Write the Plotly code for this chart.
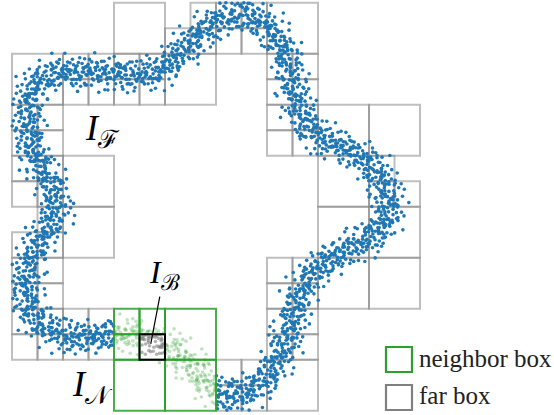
import numpy as np
import plotly.graph_objects as go

# ---------------- data ----------------
DOMAIN = 408.0  # side of the root box, data units; y grows downward

# centre line of the point cloud (data units)
curve_x = [46, 38, 28, 20, 16, 15, 18, 28, 43, 63, 88, 113, 138, 153, 166, 178, 191, 208, 228, 246,
           258, 269, 277, 282, 286, 294, 310, 330, 350, 365, 375, 378, 374, 364, 348, 328, 310, 296, 286, 280,
           274, 266, 251, 234, 217, 201, 186, 168, 148, 128, 106, 83, 58, 38, 23, 15, 13, 16, 23, 33, 43]
curve_y = [197, 179, 164, 147, 127, 107, 89, 77, 70, 69, 70, 72, 72, 65, 54, 41, 28, 17, 12, 15,
           25, 42, 63, 85, 105, 123, 135, 145, 155, 168, 186, 202, 218, 231, 241, 250, 261, 276, 295, 317,
           339, 359, 378, 392, 396, 387, 370, 352, 340, 333, 331, 334, 334, 329, 317, 301, 284, 265, 247, 231, 215]
band_sigma = 8.2
n_points = 2600

# far boxes (gray): level-3 boxes (8x8 grid) and level-4 boxes (16x16 grid), as (col, row)
far_level3 = [(0, 1), (2, 0), (3, 1), (5, 0), (1, 3), (1, 4), (6, 2), (7, 2), (6, 3), (6, 4),
              (7, 4), (7, 5), (6, 5), (5, 7)]
far_level4 = [(2, 2), (3, 2), (2, 3), (3, 3), (4, 2), (5, 2), (4, 3), (5, 3),
              (7, 0), (6, 1), (7, 1), (8, 0), (9, 0), (8, 1), (9, 1),
              (10, 2), (11, 2), (10, 3), (11, 3), (10, 4), (11, 4), (10, 5), (11, 5),
              (0, 4), (1, 4), (0, 5), (1, 5), (0, 6), (1, 6), (0, 7), (1, 7),
              (1, 8), (0, 9), (1, 9), (0, 10), (1, 10), (0, 11), (1, 11),
              (0, 12), (1, 12), (0, 13), (1, 13), (2, 12), (3, 12), (2, 13), (3, 13),
              (14, 6), (14, 7), (15, 7), (10, 10), (11, 10), (10, 11), (11, 11),
              (10, 12), (11, 12), (10, 13), (11, 13), (8, 14), (9, 14), (8, 15), (9, 15)]
# neighbour boxes (green)
near_level3 = [(3, 6), (2, 7), (3, 7)]
near_level4 = [(4, 12), (5, 12), (4, 13)]
# target box I_B
target_box = (4, 5, 13)

legend_labels = ["neighbor box", "far box"]

BLUE = "#1f77b4"
GREEN = "#2ca02c"


def box(level, col, row):
    s = DOMAIN / 2 ** level
    return col * s, row * s, (col + 1) * s, (row + 1) * s


# ---------------- point cloud along the centre line ----------------
def catmull_closed(px, py, m=24):
    px = np.asarray(px, float); py = np.asarray(py, float)
    n = len(px)
    xs, ys = [], []
    for i in range(n):
        p0 = np.array([px[(i - 1) % n], py[(i - 1) % n]])
        p1 = np.array([px[i], py[i]])
        p2 = np.array([px[(i + 1) % n], py[(i + 1) % n]])
        p3 = np.array([px[(i + 2) % n], py[(i + 2) % n]])
        for t in np.linspace(0, 1, m, endpoint=False):
            t2, t3 = t * t, t * t * t
            q = 0.5 * ((2 * p1) + (-p0 + p2) * t + (2 * p0 - 5 * p1 + 4 * p2 - p3) * t2
                       + (-p0 + 3 * p1 - 3 * p2 + p3) * t3)
            xs.append(q[0]); ys.append(q[1])
    xs.append(xs[0]); ys.append(ys[0])
    return np.array(xs), np.array(ys)


def halton(k, b):
    f, r = 1.0, 0.0
    while k > 0:
        f /= b
        r += f * (k % b)
        k //= b
    return r


sx, sy = catmull_closed(curve_x, curve_y)
seg = np.hypot(np.diff(sx), np.diff(sy))
arc = np.concatenate([[0], np.cumsum(seg)])
L = arc[-1]
tx = np.gradient(sx); ty = np.gradient(sy)
tn = np.hypot(tx, ty); tx /= tn; ty /= tn

k = np.arange(1, n_points + 1)
u_s = np.array([halton(i, 5) for i in k])
u_1 = np.array([halton(i, 2) for i in k])
u_2 = np.array([halton(i, 3) for i in k])
s = u_s * L
bx = np.interp(s, arc, sx); by = np.interp(s, arc, sy)
nx = -np.interp(s, arc, ty); ny = np.interp(s, arc, tx)
off = band_sigma * np.sqrt(-2 * np.log(np.clip(u_1, 1e-6, 1))) * np.cos(2 * np.pi * u_2)
off = np.clip(off, -2.4 * band_sigma, 2.4 * band_sigma)
ptx = bx + off * nx
pty = by + off * ny
ptx = np.where(ptx < 0, -ptx, ptx); pty = np.where(pty < 0, -pty, pty)
ptx = np.where(ptx > DOMAIN, 2 * DOMAIN - ptx, ptx); pty = np.where(pty > DOMAIN, 2 * DOMAIN - pty, pty)


def inside(bb, x, y):
    return (x >= bb[0]) & (x < bb[2]) & (y >= bb[1]) & (y < bb[3])


tb = box(*target_box)
in_t = inside(tb, ptx, pty)
in_n = np.zeros_like(in_t)
for c, r in near_level3:
    in_n |= inside(box(3, c, r), ptx, pty)
for c, r in near_level4:
    in_n |= inside(box(4, c, r), ptx, pty)
in_n &= ~in_t
far = ~(in_t | in_n)

fig = go.Figure()
fig.add_trace(go.Scatter(x=ptx[far], y=pty[far], mode="markers",
                         marker=dict(size=3.6, color=BLUE, line=dict(width=0)),
                         showlegend=False, hoverinfo="skip"))
fig.add_trace(go.Scatter(x=ptx[in_n], y=pty[in_n], mode="markers",
                         marker=dict(size=3.6, color="rgba(44,160,44,0.3)", line=dict(width=0)),
                         showlegend=False, hoverinfo="skip"))
fig.add_trace(go.Scatter(x=ptx[in_t], y=pty[in_t], mode="markers",
                         marker=dict(size=3.6, color="rgba(127,127,127,0.6)", line=dict(width=0)),
                         showlegend=False, hoverinfo="skip"))

shapes = []
GRAY_LINE = dict(color="rgba(128,128,128,0.5)", width=2)
for c, r in far_level3:
    x0, y0, x1, y1 = box(3, c, r)
    shapes.append(dict(type="rect", xref="x", yref="y", x0=x0, y0=y0, x1=x1, y1=y1,
                       line=GRAY_LINE, fillcolor="rgba(0,0,0,0)", layer="below"))
for c, r in far_level4:
    x0, y0, x1, y1 = box(4, c, r)
    shapes.append(dict(type="rect", xref="x", yref="y", x0=x0, y0=y0, x1=x1, y1=y1,
                       line=GRAY_LINE, fillcolor="rgba(0,0,0,0)", layer="below"))
GREEN_LINE = dict(color="rgba(44,160,44,0.85)", width=2)
for c, r in near_level3:
    x0, y0, x1, y1 = box(3, c, r)
    shapes.append(dict(type="rect", xref="x", yref="y", x0=x0, y0=y0, x1=x1, y1=y1,
                       line=GREEN_LINE, fillcolor="rgba(0,0,0,0)", layer="above"))
for c, r in near_level4:
    x0, y0, x1, y1 = box(4, c, r)
    shapes.append(dict(type="rect", xref="x", yref="y", x0=x0, y0=y0, x1=x1, y1=y1,
                       line=GREEN_LINE, fillcolor="rgba(0,0,0,0)", layer="above"))
shapes.append(dict(type="rect", xref="x", yref="y", x0=tb[0], y0=tb[1], x1=tb[2], y1=tb[3],
                   line=dict(color="black", width=2), fillcolor="rgba(0,0,0,0)", layer="above"))

# legend squares (paper coords)
W, H = 554, 415
def pbox(x0, y0, x1, y1):
    return dict(x0=x0 / W, x1=x1 / W, y0=1 - y1 / H, y1=1 - y0 / H)
shapes.append(dict(type="rect", xref="paper", yref="paper", **pbox(386, 347, 412, 372),
                   line=dict(color=GREEN, width=2.2), fillcolor="rgba(0,0,0,0)"))
shapes.append(dict(type="rect", xref="paper", yref="paper", **pbox(386, 385, 412, 410),
                   line=dict(color="#808080", width=2.2), fillcolor="rgba(0,0,0,0)"))

SERIF = "Liberation Serif"
annotations = [
    dict(x=417 / W, y=1 - 358 / H, xref="paper", yref="paper", text=legend_labels[0],
         showarrow=False, xanchor="left", yanchor="middle", font=dict(family=SERIF, size=25, color="#222")),
    dict(x=417 / W, y=1 - 395 / H, xref="paper", yref="paper", text=legend_labels[1],
         showarrow=False, xanchor="left", yanchor="middle", font=dict(family=SERIF, size=25, color="#222")),
    dict(x=90, y=128, xref="x", yref="y", text="<i>I</i><sub>ℱ</sub>", showarrow=False,
         font=dict(family=SERIF, size=36, color="black")),
    dict(x=80, y=384, xref="x", yref="y", text="<i>I</i><sub>𝒩</sub>", showarrow=False,
         font=dict(family=SERIF, size=36, color="black")),
    dict(x=(tb[0] + tb[2]) / 2 - 1.5, y=(tb[1] + tb[3]) / 2 - 3, xref="x", yref="y",
         ax=152, ay=272, axref="x", ayref="y", text="<i>I</i><sub>ℬ</sub>", showarrow=True,
         arrowhead=0, arrowwidth=1.2, arrowcolor="black",
         font=dict(family=SERIF, size=32, color="black")),
]

fig.update_layout(
    width=W, height=H, margin=dict(l=0, r=0, t=0, b=0),
    paper_bgcolor="white", plot_bgcolor="white",
    xaxis=dict(range=[-12, 542], visible=False, fixedrange=True),
    yaxis=dict(range=[412.3, -2.7], visible=False, fixedrange=True),
    shapes=shapes, annotations=annotations, showlegend=False,
)
fig.write_html("out.html", config={"displayModeBar": False},
               post_script="document.body.style.margin='0';document.body.style.overflow='hidden';")
